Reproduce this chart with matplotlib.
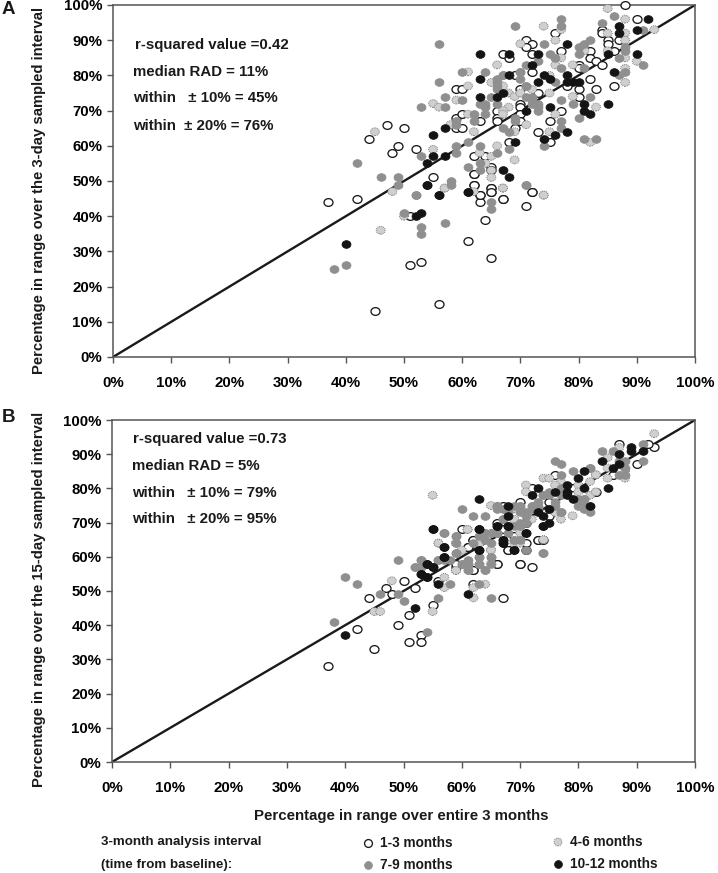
#!/usr/bin/env python3
import matplotlib
matplotlib.use('Agg')
import matplotlib.pyplot as plt
from matplotlib.markers import MarkerStyle
from matplotlib.transforms import Affine2D

plt.rcParams['font.family'] = ['Liberation Sans', 'DejaVu Sans']
plt.rcParams['font.weight'] = 'bold'
plt.rcParams['text.color'] = '#1a1a1a'

tick_values = [0, 10, 20, 30, 40, 50, 60, 70, 80, 90, 100]
tick_labels = [f'{v}%' for v in tick_values]
legend_names = ['1-3 months', '4-6 months', '7-9 months', '10-12 months']

# panel A, 3-day sampled interval
a_open_x = [88, 90, 84, 84, 85, 85, 76, 71, 72, 71, 67, 68, 72, 77, 82, 82, 83, 84, 86, 87, 80, 80, 72, 69, 82, 78, 80, 83, 86, 59, 60, 70, 73, 80, 66, 66, 66, 70, 70, 70, 77, 75, 59, 60, 63, 59, 60, 69, 70, 73, 68, 75, 44, 47, 50, 48, 49, 52, 62, 64, 65, 62, 65, 62, 65, 65, 55, 72, 63, 67, 42, 37, 45, 56, 51, 53, 61, 65, 64, 71, 67, 63, 63, 62, 65, 65, 72, 51, 62]
a_open_y = [100, 96, 93, 92, 90, 89, 92, 90, 89, 88, 86, 85, 86, 87, 87, 85, 84, 83, 87, 90, 83, 82, 81, 80, 79, 77, 76, 76, 77, 76, 76, 76, 75, 74, 70, 68, 67, 72, 71, 69, 70, 67, 68, 69, 67, 65, 65, 65, 67, 64, 61, 61, 62, 66, 65, 58, 60, 59, 57, 57, 54, 52, 53, 49, 48, 47, 51, 47, 46, 45, 45, 44, 13, 15, 26, 27, 33, 28, 39, 43, 45, 44, 46, 49, 48, 47, 47, 40, 52]
a_light_x = [85, 88, 74, 77, 85, 88, 76, 70, 93, 88, 81, 85, 76, 77, 76, 66, 79, 90, 88, 88, 88, 61, 61, 65, 67, 75, 75, 72, 68, 69, 70, 79, 59, 55, 56, 83, 68, 67, 67, 76, 61, 71, 58, 62, 45, 69, 75, 82, 66, 55, 63, 65, 69, 64, 65, 65, 57, 67, 74, 62, 48, 46, 50, 57, 67, 74]
a_light_y = [99, 96, 94, 93, 92, 92, 90, 89, 93, 90, 87, 87, 85, 85, 83, 83, 83, 84, 85, 82, 78, 81, 77, 78, 77, 80, 75, 76, 75, 74, 75, 74, 73, 72, 71, 71, 71, 70, 69, 69, 69, 66, 66, 64, 64, 64, 64, 61, 60, 59, 58, 57, 56, 55, 53, 51, 48, 48, 46, 47, 47, 36, 40, 48, 48, 46]
a_gray_x = [77, 77, 86, 69, 56, 74, 84, 82, 81, 80, 80, 91, 75, 76, 73, 71, 77, 70, 60, 64, 81, 91, 88, 88, 87, 88, 87, 66, 66, 66, 67, 70, 56, 76, 71, 57, 60, 65, 53, 57, 63, 64, 64, 64, 66, 71, 72, 72, 72, 73, 73, 73, 77, 82, 79, 80, 62, 62, 59, 59, 77, 77, 69, 69, 67, 68, 81, 83, 74, 63, 61, 68, 66, 59, 59, 53, 63, 42, 61, 63, 46, 49, 49, 58, 58, 71, 52, 38, 40, 53, 53, 57, 50, 52, 65, 65, 71, 71, 67, 70, 66]
a_gray_y = [96, 94, 97, 94, 89, 89, 95, 90, 89, 88, 86, 93, 86, 85, 84, 83, 82, 81, 81, 81, 82, 83, 88, 87, 85, 81, 80, 79, 78, 77, 80, 79, 78, 78, 77, 74, 73, 74, 71, 71, 72, 72, 71, 69, 72, 74, 74, 73, 72, 72, 71, 70, 73, 74, 72, 68, 69, 67, 67, 66, 67, 65, 68, 67, 65, 64, 62, 62, 60, 60, 61, 59, 58, 60, 58, 57, 55, 55, 54, 53, 51, 51, 49, 50, 49, 49, 46, 25, 26, 37, 35, 38, 41, 46, 44, 42, 49, 77, 80, 81, 76]
a_black_x = [92, 87, 87, 90, 78, 73, 63, 68, 85, 90, 72, 86, 68, 74, 75, 73, 63, 78, 78, 79, 80, 67, 66, 63, 81, 85, 81, 82, 75, 71, 55, 57, 55, 57, 54, 69, 74, 76, 78, 67, 68, 54, 56, 61, 40, 52, 53, 54, 56, 61]
a_black_y = [96, 94, 92, 93, 89, 86, 86, 86, 86, 86, 83, 81, 80, 80, 79, 78, 79, 80, 78, 78, 78, 75, 74, 74, 72, 72, 70, 69, 71, 70, 63, 65, 57, 57, 55, 61, 62, 63, 64, 53, 51, 49, 46, 47, 32, 40, 41, 49, 46, 47]

# panel B, 15-day sampled interval
b_open_x = [37, 45, 42, 44, 47, 48, 50, 52, 49, 51, 51, 53, 53, 55, 56, 60, 62, 59, 62, 67, 70, 72, 66, 73, 71, 68, 61, 62, 69, 93, 92, 87, 90, 86, 76, 72, 75, 70, 67, 66, 69, 67, 62, 73, 61, 68, 71, 66, 70, 59, 62, 83, 79, 79, 75, 71, 74]
b_open_y = [28, 33, 39, 48, 51, 49, 53, 51, 40, 43, 35, 37, 35, 46, 53, 68, 56, 57, 52, 48, 58, 57, 58, 65, 64, 62, 63, 65, 66, 92, 93, 93, 87, 84, 84, 80, 76, 76, 75, 70, 66, 68, 65, 65, 63, 62, 62, 58, 58, 58, 56, 79, 80, 78, 72, 70, 65]
b_light_x = [45, 46, 48, 55, 57, 57, 56, 59, 60, 59, 61, 62, 62, 64, 65, 65, 63, 74, 70, 93, 87, 85, 85, 85, 83, 88, 88, 74, 75, 77, 71, 71, 80, 82, 82, 55, 65, 69, 69, 77, 79, 72, 61, 56, 59, 70, 63, 65, 69, 70, 74, 59, 83, 76, 83, 80, 76]
b_light_y = [44, 44, 53, 44, 54, 51, 64, 64, 62, 56, 68, 51, 48, 52, 62, 58, 64, 65, 65, 96, 92, 89, 86, 83, 84, 85, 83, 83, 83, 82, 81, 79, 81, 82, 78, 78, 75, 74, 71, 71, 72, 71, 68, 64, 64, 67, 64, 62, 64, 64, 65, 56, 84, 81, 79, 79, 73]
b_gray_x = [38, 40, 42, 46, 49, 50, 49, 52, 53, 53, 56, 54, 57, 59, 58, 57, 56, 58, 60, 61, 61, 61, 64, 63, 65, 59, 63, 63, 65, 71, 74, 63, 64, 65, 66, 64, 65, 62, 69, 71, 70, 91, 91, 86, 84, 76, 77, 79, 88, 88, 88, 87, 82, 77, 75, 74, 77, 77, 76, 80, 81, 82, 77, 60, 62, 64, 66, 67, 66, 70, 72, 73, 71, 70, 69, 57, 59, 59, 64, 65, 66, 68, 70, 69, 74, 65, 65, 63, 63, 64, 61, 61, 60, 59, 56, 53, 52, 81, 82, 87, 72, 71, 70, 69, 67, 66, 66, 76, 77, 80, 81, 82, 81, 74, 75, 77, 73, 73, 72, 70, 68, 67, 66, 65]
b_gray_y = [41, 54, 52, 49, 49, 47, 59, 57, 59, 57, 48, 38, 67, 66, 52, 59, 59, 59, 58, 58, 56, 59, 56, 52, 48, 61, 60, 58, 60, 62, 61, 66, 67, 67, 67, 65, 64, 64, 65, 70, 70, 93, 88, 91, 91, 88, 87, 85, 84, 86, 88, 88, 86, 84, 78, 78, 80, 78, 76, 75, 75, 73, 73, 74, 72, 72, 75, 74, 75, 75, 74, 74, 72, 69, 69, 67, 66, 64, 67, 67, 67, 67, 65, 65, 61, 60, 58, 60, 58, 56, 58, 56, 58, 61, 59, 59, 57, 77, 86, 84, 75, 73, 73, 75, 71, 75, 74, 75, 73, 77, 77, 75, 74, 78, 79, 79, 76, 75, 75, 75, 73, 71, 67, 67]
b_black_x = [40, 52, 53, 54, 54, 55, 55, 57, 57, 56, 61, 63, 63, 66, 68, 67, 67, 69, 71, 74, 91, 89, 89, 87, 84, 87, 86, 85, 81, 80, 81, 78, 78, 79, 76, 73, 72, 82, 75, 73, 74, 75, 74, 68, 68, 68, 66, 63, 63, 71, 55, 67, 67, 69, 57, 57, 63, 54, 55, 53, 54, 78]
b_black_y = [37, 45, 55, 54, 58, 57, 68, 63, 60, 52, 49, 68, 62, 69, 69, 65, 64, 62, 67, 69, 91, 92, 91, 90, 88, 87, 86, 80, 85, 83, 80, 81, 78, 77, 79, 80, 78, 75, 74, 73, 72, 70, 69, 75, 72, 69, 69, 68, 77, 67, 68, 65, 64, 62, 63, 60, 62, 58, 57, 55, 54, 79]

FIG_W, FIG_H = 718, 873
fig = plt.figure(figsize=(FIG_W / 100, FIG_H / 100), dpi=100, facecolor='white')

oval = MarkerStyle('o', transform=Affine2D().scale(1, 0.86))
STYLES = {
    'open': dict(facecolor='white', edgecolor='#1a1a1a', linewidths=0.95),
    'light': dict(facecolor='#cfcfcf', edgecolor='#808080', linewidths=0.7, linestyle=(0, (1, 1))),
    'gray': dict(facecolor='#8f8f8f', edgecolor='#8f8f8f', linewidths=0.5),
    'black': dict(facecolor='#141414', edgecolor='#141414', linewidths=0.5),
}


def px_axes(left, top, right, bottom):
    return fig.add_axes([left / FIG_W, 1 - bottom / FIG_H, (right - left) / FIG_W, (bottom - top) / FIG_H])


def fig_text(x, y, s, **kw):
    # positions given in image pixels
    fig.text(x / FIG_W, 1 - y / FIG_H, s, **kw)


def draw_panel(ax, series):
    ax.plot([0, 100], [0, 100], color='#1a1a1a', lw=1.7, zorder=2, solid_capstyle='butt')
    for kind, x, y in series:
        ax.scatter(x, y, s=42, marker=oval, clip_on=False, zorder=3, **STYLES[kind])
    ax.set_xlim(0, 100)
    ax.set_ylim(0, 100)
    ax.set_xticks(tick_values, tick_labels)
    ax.set_yticks(tick_values, tick_labels)
    ax.tick_params(axis='x', length=4, width=1.0, color='#555555', labelsize=10.8, pad=10)
    ax.tick_params(axis='y', length=4, width=1.0, color='#555555', labelsize=10.8, pad=3.5)
    for side in ax.spines:
        ax.spines[side].set_color('#555555')
        ax.spines[side].set_linewidth(1.1)


def notes(lines):
    for (x, y, s) in lines:
        fig_text(x, y, s, fontsize=10.8, va='center', ha='left')


ax_a = px_axes(113, 5, 695, 357)
draw_panel(ax_a, [('open', a_open_x, a_open_y), ('light', a_light_x, a_light_y),
                  ('gray', a_gray_x, a_gray_y), ('black', a_black_x, a_black_y)])

ax_b = px_axes(112, 420, 695, 762)
draw_panel(ax_b, [('open', b_open_x, b_open_y), ('light', b_light_x, b_light_y),
                  ('gray', b_gray_x, b_gray_y), ('black', b_black_x, b_black_y)])

fig_text(39, 191, 'Percentage in range over the 3-day sampled interval', fontsize=10.7,
         rotation=90, ha='center', va='center')
fig_text(39, 599, 'Percentage in range over the 15-day sampled interval', fontsize=10.7,
         rotation=90, ha='center', va='center')
fig_text(401, 816, 'Percentage in range over entire 3 months', fontsize=10.8, ha='center', va='center')

fig_text(2, 10, 'A', fontsize=13.5, va='center')
fig_text(2, 417, 'B', fontsize=13.5, va='center')

notes([(135, 45, 'r-squared value =0.42'), (133, 72, 'median RAD = 11%'),
       (133, 98, 'within   ± 10% = 45%'), (133, 126, 'within  ± 20% = 76%')])
notes([(133, 439, 'r-squared value =0.73'), (132, 466, 'median RAD = 5%'),
       (132, 493, 'within   ± 10% = 79%'), (132, 519, 'within   ± 20% = 95%')])

# legend, laid out by hand like the original
fig_text(101, 842, '3-month analysis interval', fontsize=9.6, va='center')
fig_text(101, 865, '(time from baseline):', fontsize=9.6, va='center')
leg = fig.add_axes([0, 0, 1, 1], facecolor='none')
leg.set_xlim(0, FIG_W)
leg.set_ylim(FIG_H, 0)
leg.axis('off')
legend_kinds = ['open', 'light', 'gray', 'black']
legend_x = [368, 558, 368, 558]
legend_y = [843, 842, 865, 864]
for kind, name, lx, ly in zip(legend_kinds, legend_names, legend_x, legend_y):
    leg.scatter([lx], [ly], s=32, marker='o', **STYLES[kind])
    leg.text(lx + 12, ly, name, fontsize=9.8, va='center')

fig.savefig('out.png', dpi=100)
